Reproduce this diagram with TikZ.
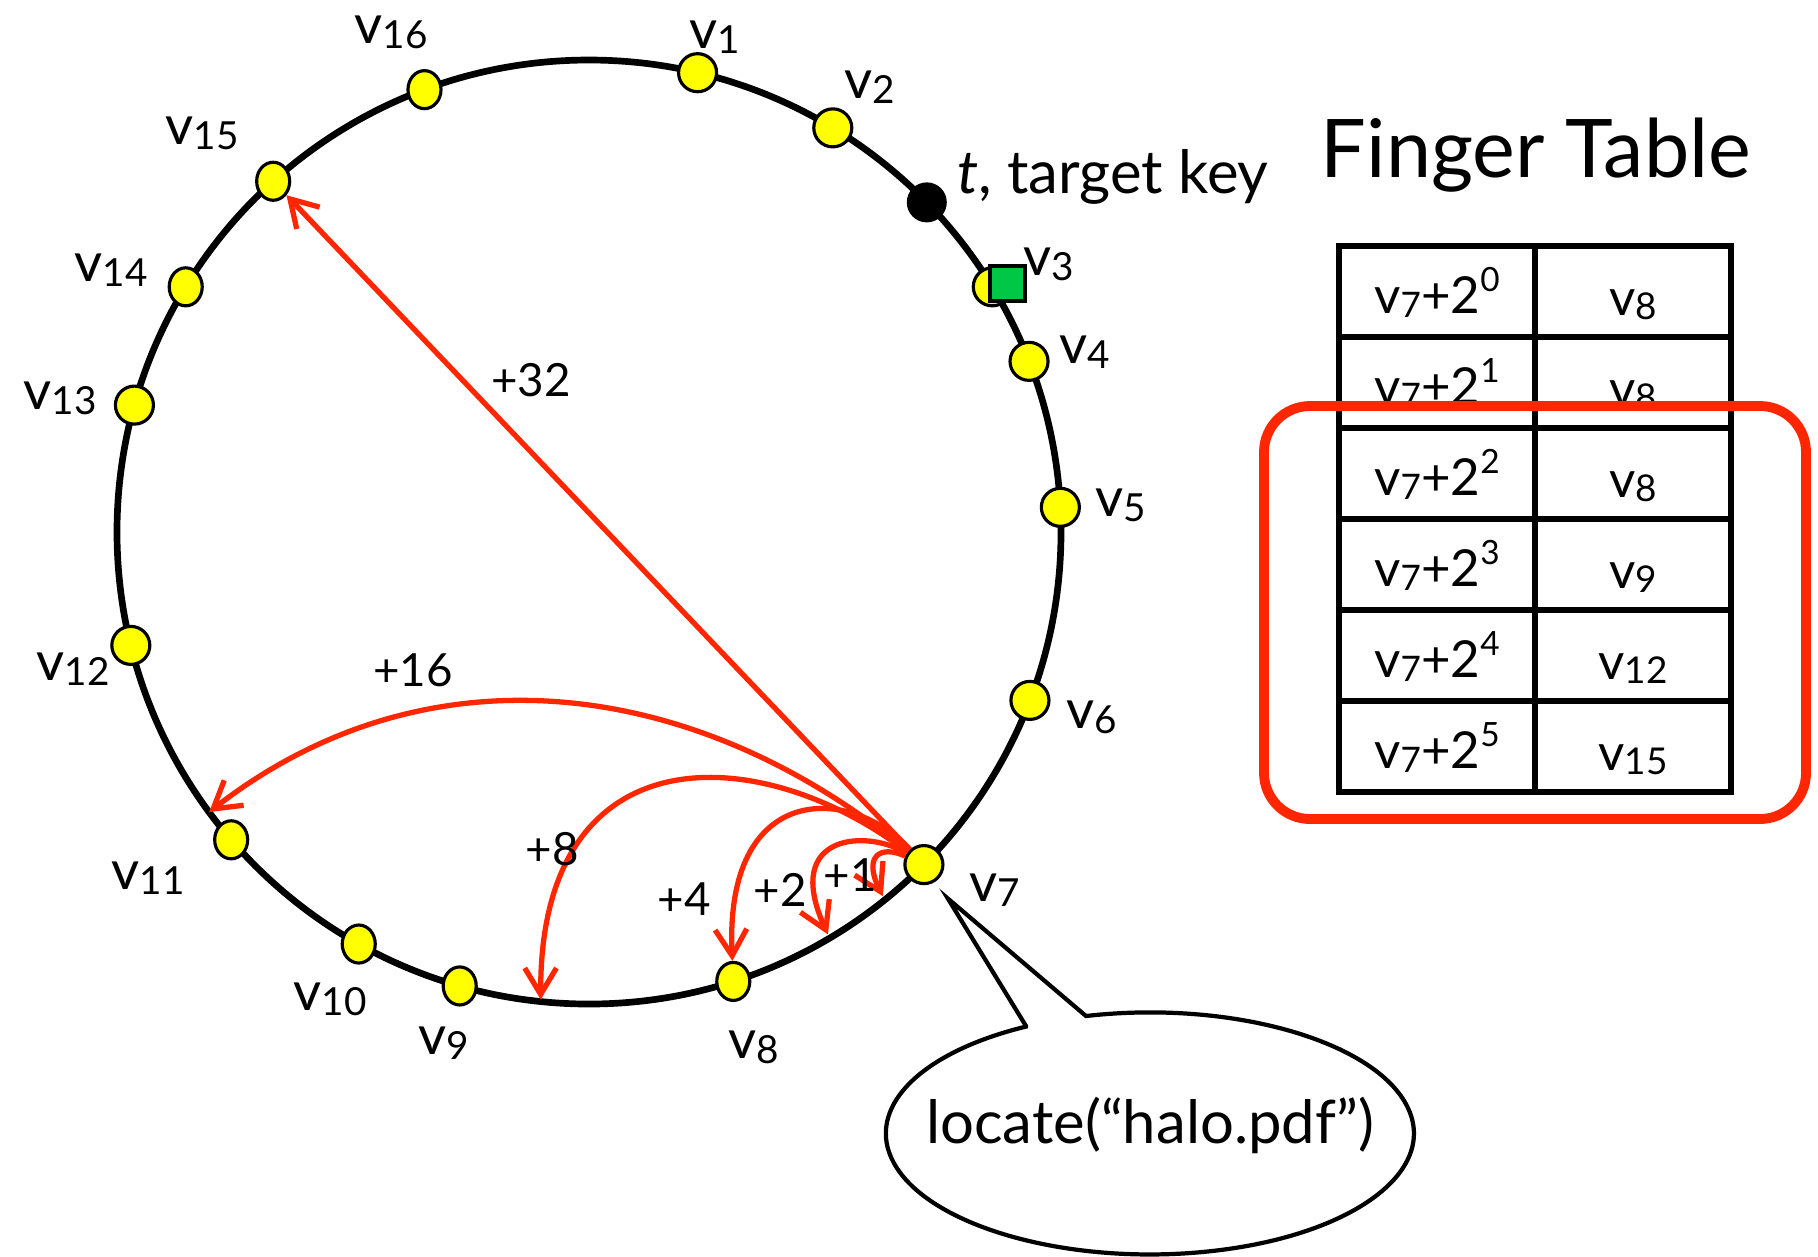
\documentclass[tikz,border=0pt]{standalone}
\usepackage{fontspec}
\setmainfont{Lato}
\usetikzlibrary{arrows.meta,shapes.geometric}

\definecolor{hopred}{RGB}{255,38,0}
\definecolor{peeryellow}{RGB}{255,255,0}
\definecolor{keygreen}{RGB}{0,200,70}

% v with its index set low
\newcommand{\vid}[2][11]{v\raisebox{-1.4pt}{\fontsize{#1}{#1}\selectfont #2}}

\tikzset{
  peer/.style={ellipse, draw, fill=peeryellow, line width=0.9pt, inner sep=0pt, minimum height=3.8mm},
  peername/.style={font=\fontsize{15.5}{16}\selectfont},
  hop/.style={draw=hopred, line width=1.5pt, -{Straight Barb[length=7.5pt,width=9pt]}},
  hoplabel/.style={font=\fontsize{13}{14}\selectfont},
  entry/.style={font=\fontsize{14.5}{16}\selectfont, anchor=base},
  cell/.style={draw, line width=1.9pt},
}

\begin{document}
\begin{tikzpicture}[x=0.01cm,y=-0.01cm]
\useasboundingbox (0,0) rectangle (1818,1256);
\coordinate (ctr) at (589,532);
\draw[line width=1.9pt] (ctr) circle[radius=472];

% peers on the ring (y points down, so angles run clockwise)
\foreach \n/\a/\w in {1/-76.7/3.8mm, 2/-58.9/3.8mm, 3/-31.3/3.8mm, 4/-21.2/3.8mm, 5/-3.0/3.8mm, 6/20.9/3.8mm, 7/44.8/3.8mm, 8/72.2/3.3mm, 9/105.9/3.3mm, 10/119.2/3.3mm, 11/139.3/3.3mm, 12/166.1/3.8mm, 13/-164.4/3.8mm, 14/-148.7/3.3mm, 15/-132.0/3.3mm, 16/-110.4/3.3mm}
  \node[peer, minimum width=\w] (v\n) at ([shift={(\a:472)}]ctr) {};

\foreach \n/\x/\y in {1/715/37, 2/870/87, 3/1049/264, 4/1085/352, 5/1121/505, 6/1092/717, 7/995/890, 8/754/1047, 9/444/1043, 10/330/999, 11/148/878, 12/73/669, 13/60/398, 14/111/270, 15/202/133, 16/391/32}
  \node[peername] (n\n) at (\x,\y) {\vid{\n}};

% target key and its successor
\node[circle, fill=black, minimum size=4mm, inner sep=0pt] (t) at ([shift={(-44.3:472)}]ctr) {};
\node[anchor=west, font=\fontsize{17}{18}\selectfont] (tname) at (945,177) {\textit{t}, target key};
\node[draw, fill=keygreen, line width=1.2pt, minimum size=3.5mm, inner sep=0pt] (hit) at ([shift={(15,-3)}]v3) {};

% fingers of v7
\coordinate (k16) at ([shift={(143.6:472)}]ctr);
\coordinate (k8) at ([shift={(95.9:470)}]ctr);
\coordinate (k2) at ([shift={(59.3:468)}]ctr);
\coordinate (k1) at ([shift={(51.1:468)}]ctr);
\draw[hop] (v7) -- (v15);
\draw[hop] (v7) .. controls +(-224,-185) and +(221,-172) .. (k16);
\draw[hop] (v7) .. controls +(-164,-125) and +(-1,-269) .. (k8);
\draw[hop] (v7) .. controls +(-74,-80) and +(-9,-200) .. (v8);
\draw[hop] (v7) .. controls +(-54,-35) and +(-47,-103) .. (k2);
\draw[hop] (v7) .. controls +(-44,-20) and +(-20,-40) .. (k1);
\node[hoplabel] (h32) at (531,380) {+32};
\node[hoplabel] (h16) at (413,670) {+16};
\node[hoplabel] (h8) at (552,849) {+8};
\node[hoplabel] (h4) at (684,899) {+4};
\node[hoplabel] (h2) at (780,890) {+2};
\node[hoplabel] (h1) at (850,875) {+1};

% finger table
\node[font=\fontsize{23}{26}\selectfont] (title) at (1536,155) {Finger Table};
\foreach \k/\s in {0/8,1/8,2/8,3/9,4/12,5/15} {
  \draw[cell] (1339,{246+91*\k}) rectangle (1535,{337+91*\k});
  \draw[cell] (1535,{246+91*\k}) rectangle (1731,{337+91*\k});
  \node[entry] (f\k) at (1437,{313+91*\k}) {\vid[10]{7}+2\raisebox{0.42em}{\fontsize{9.5}{10}\selectfont\k}};
  \node[entry] (s\k) at (1633,{315+91*\k}) {\vid[10.5]{\s}};
}
\draw[hopred, line width=2.8pt, rounded corners=0.46cm] (1264,406) rectangle (1806,819);

% the lookup call
\coordinate (tip) at ([shift={(24,34)}]v7);
\draw[line width=1.2pt, fill=white] (1026,1026) -- (tip) -- (1086,1016) arc[start angle=-104, end angle=242, x radius=264, y radius=121] -- cycle;
\node[font=\fontsize{17}{18}\selectfont] (call) at (1150,1125) {locate(``halo.pdf'')};
\end{tikzpicture}
\end{document}
